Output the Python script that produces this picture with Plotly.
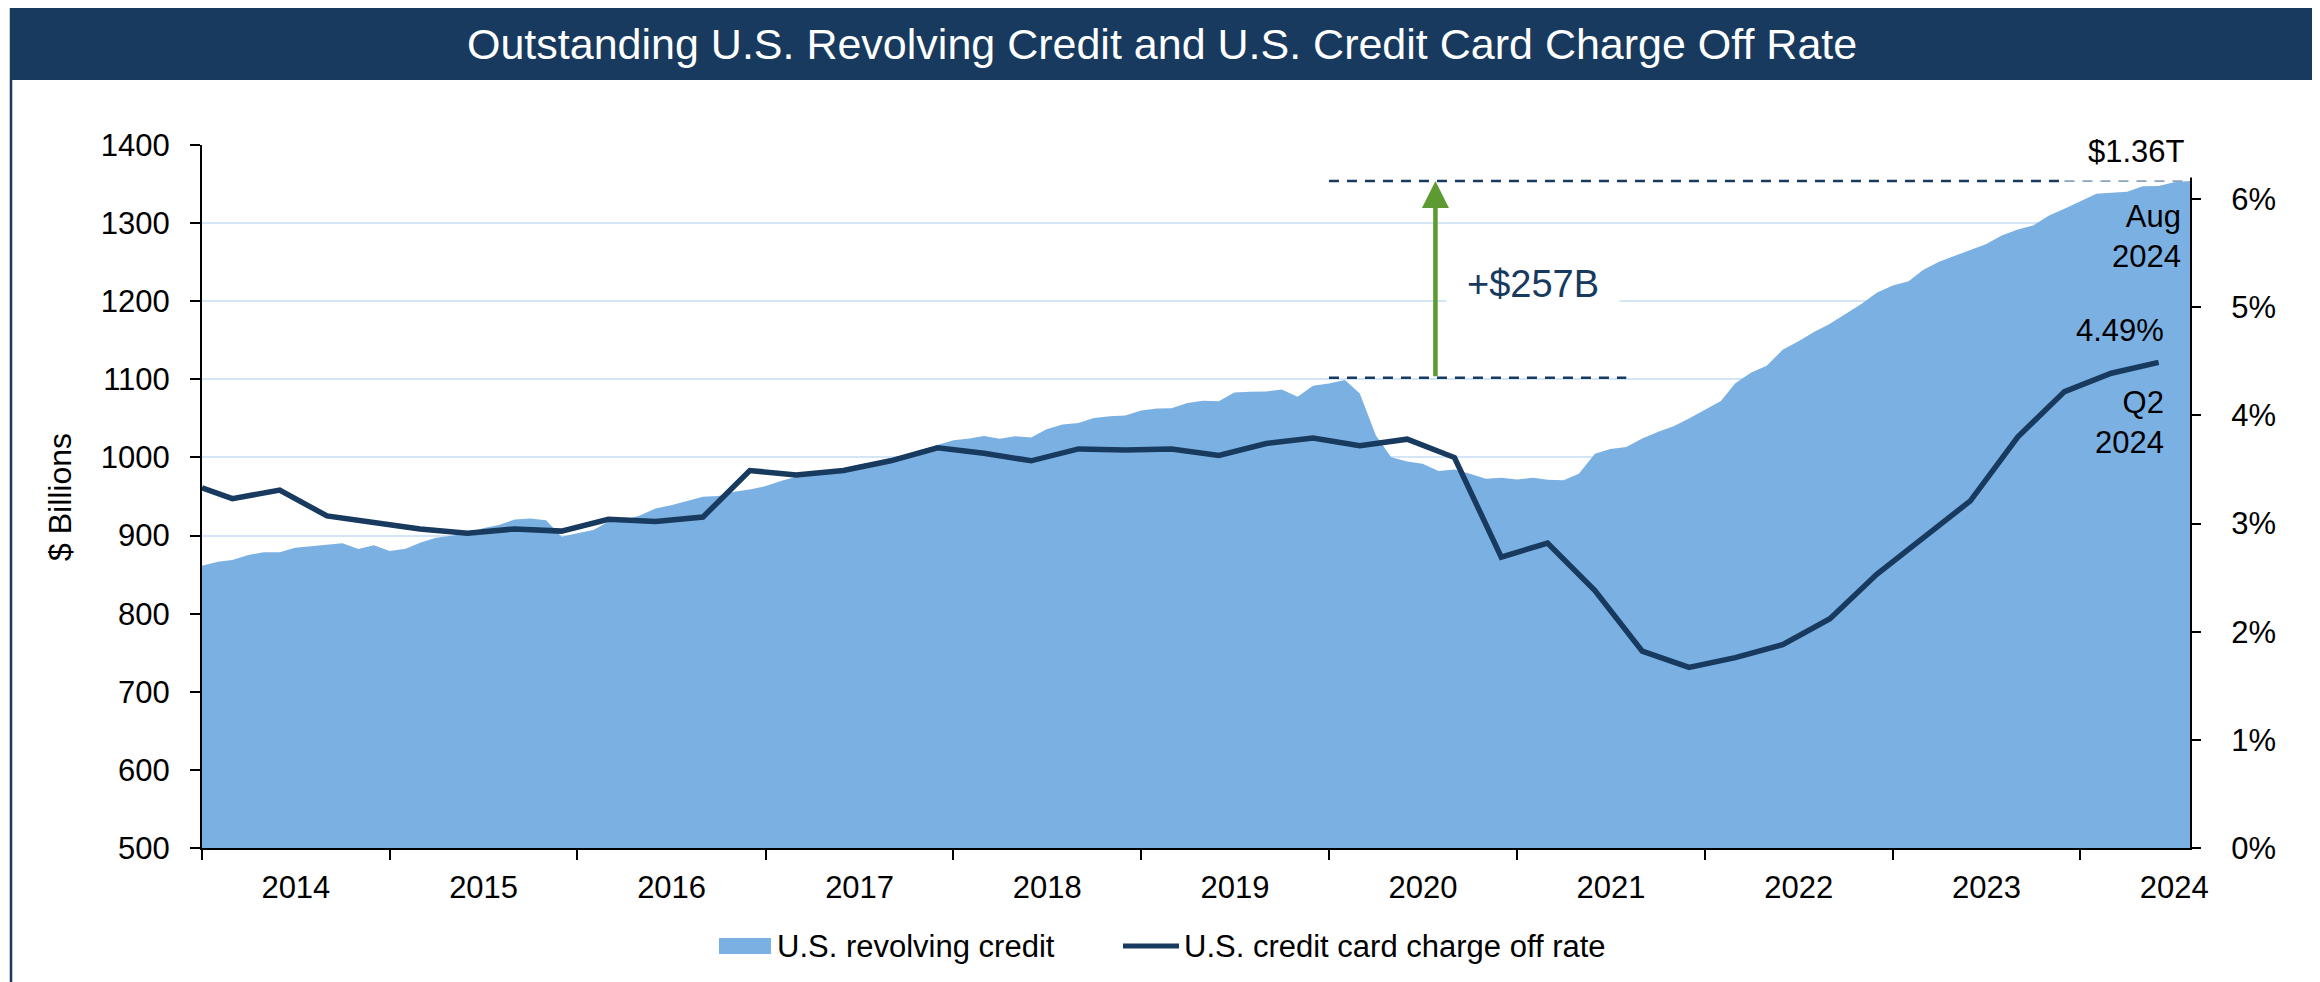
import plotly.graph_objects as go
import pandas as pd

# ---------------- data ----------------
months = pd.date_range("2014-01-01", "2024-08-01", freq="MS").strftime("%Y-%m-%d").tolist()

revolving = [
    861.5, 866.6, 868.8, 875.2, 878.6, 878.6, 884.5, 886.2, 887.5, 890.0, 882.8, 887.5,   # 2014
    880.3, 883.2, 890.8, 897.2, 899.7, 902.8, 909.2, 913.4, 920.6, 921.9, 919.7, 898.5,   # 2015
    902.8, 907.0, 917.6, 919.7, 925.7, 934.6, 938.9, 944.0, 949.7, 950.6, 956.0, 959.1,   # 2016
    963.3, 970.1, 975.2, 978.3, 981.6, 986.0, 991.0, 994.4, 998.7, 1003.8, 1010.2, 1015.7,  # 2017
    1022.0, 1024.3, 1027.6, 1023.8, 1027.2, 1025.5, 1036.1, 1042.1, 1044.2, 1050.6, 1052.7, 1053.6,  # 2018
    1060.0, 1062.6, 1063.0, 1069.8, 1072.5, 1072.1, 1083.2, 1084.0, 1084.5, 1087.1, 1077.6, 1091.8,  # 2019
    1094.8, 1099.1, 1082.0, 1028.3, 1000.4, 994.9, 991.9, 982.6, 984.6, 979.0, 972.6, 973.9,  # 2020
    971.7, 973.9, 971.3, 970.8, 979.0, 1004.8, 1010.7, 1013.3, 1024.1, 1032.6, 1040.0, 1049.8,  # 2021
    1060.6, 1072.2, 1094.9, 1108.6, 1117.3, 1137.8, 1148.5, 1160.5, 1171.3, 1183.7, 1196.5, 1210.7,  # 2022
    1220.2, 1225.7, 1239.9, 1250.6, 1257.9, 1265.3, 1273.0, 1284.0, 1291.8, 1296.9, 1309.8, 1318.4,  # 2023
    1328.3, 1337.7, 1339.0, 1340.3, 1347.2, 1347.5, 1352.3, 1353.8,  # 2024 (Jan-Aug)
]

quarter_dates = (
    ["2014-01-01"]
    + [f"{y}-{m:02d}-01" for y in range(2014, 2024) for m in (3, 6, 9, 12)]
    + ["2024-03-01", "2024-06-01"]
)
charge_off = [
    3.33,
    3.23, 3.31, 3.07, 3.01,   # 2014
    2.95, 2.91, 2.95, 2.93,   # 2015
    3.04, 3.02, 3.06, 3.49,   # 2016
    3.45, 3.49, 3.58, 3.70,   # 2017
    3.65, 3.58, 3.69, 3.68,   # 2018
    3.69, 3.63, 3.74, 3.79,   # 2019
    3.72, 3.78, 3.61, 2.69,   # 2020
    2.82, 2.38, 1.82, 1.67,   # 2021
    1.76, 1.88, 2.12, 2.53,   # 2022
    2.87, 3.21, 3.80, 4.22,   # 2023
    4.39, 4.49,               # 2024
]

left_ticks = list(range(500, 1401, 100))
right_ticks = [0, 1, 2, 3, 4, 5, 6]
right_labels = [f"{v}%" for v in right_ticks]

peak_month = "2020-02-01"
peak_value = revolving[months.index(peak_month)]
latest_value = revolving[-1]

# ---------------- style ----------------
NAVY = "#173A5E"
AREA = "#7BB0E3"
GRID = "#D3E5F6"
GREEN = "#5E9A32"
FONT = "Liberation Sans, Arial, sans-serif"

OFF = 8                      # page body margin of the browser
W, H = 2320 - OFF, 982 - OFF
# plot area in screen pixels
L, R, T, B = 202, 2190, 145, 848


def xp(px):
    return (px - L) / (R - L)


def yp(py):
    return (B - py) / (B - T)


fig = go.Figure()

fig.add_trace(go.Scatter(
    x=months, y=revolving, name="U.S. revolving credit",
    mode="lines", line=dict(width=0, color=AREA), fill="tozeroy",
    fillcolor=AREA, showlegend=False, yaxis="y",
))
fig.add_trace(go.Scatter(
    x=quarter_dates, y=charge_off, name="U.S. credit card charge off rate",
    mode="lines", line=dict(width=5.5, color=NAVY), showlegend=False,
    yaxis="y2",
))

shapes = []
# outer frame and title band
shapes.append(dict(type="rect", xref="paper", yref="paper",
                   x0=xp(11), x1=xp(2315), y0=yp(995), y1=yp(8),
                   line=dict(color=NAVY, width=2.5), fillcolor="rgba(0,0,0,0)", layer="below"))
shapes.append(dict(type="rect", xref="paper", yref="paper",
                   x0=xp(10), x1=xp(2316), y0=yp(80), y1=yp(7),
                   line=dict(width=0), fillcolor=NAVY, layer="below"))
# dashed reference lines
shapes.append(dict(type="line", xref="x", yref="y", x0="2020-01-01", x1="2021-08-01",
                   y0=peak_value + 3, y1=peak_value + 3,
                   line=dict(color=NAVY, width=2.5, dash="10px,8px")))
shapes.append(dict(type="line", xref="x", yref="y", x0="2020-01-01", x1="2023-12-01",
                   y0=latest_value, y1=latest_value,
                   line=dict(color=NAVY, width=2.5, dash="10px,8px")))
shapes.append(dict(type="line", xref="x", yref="y", x0="2023-12-01", x1="2024-08-01",
                   y0=latest_value, y1=latest_value,
                   line=dict(color="#8CA3BE", width=1.8, dash="10px,8px")))
# legend swatches
shapes.append(dict(type="rect", xref="paper", yref="paper",
                   x0=xp(719), x1=xp(771), y0=yp(954), y1=yp(938),
                   line=dict(width=0), fillcolor=AREA))
shapes.append(dict(type="line", xref="paper", yref="paper",
                   x0=xp(1123), x1=xp(1179), y0=yp(946), y1=yp(946),
                   line=dict(width=5, color=NAVY)))

annotations = [
    dict(text="Outstanding U.S. Revolving Credit and U.S. Credit Card Charge Off Rate",
         xref="paper", yref="paper", x=xp(1162), y=yp(44), xanchor="center", yanchor="middle",
         showarrow=False, font=dict(size=43, color="white", family=FONT)),
    dict(text="$ Billions", xref="paper", yref="paper", x=xp(60), y=yp(497),
         textangle=-90, showarrow=False, xanchor="center", yanchor="middle",
         font=dict(size=32, color="black", family=FONT)),
    dict(text="$1.36T", xref="paper", yref="paper", x=xp(2194), y=yp(151),
         xanchor="right", yanchor="middle", showarrow=False, bgcolor="white", borderpad=8,
         font=dict(size=31, color="black", family=FONT)),
    dict(text="Aug<br>2024", xref="paper", yref="paper", x=xp(2183), y=yp(236),
         xanchor="right", yanchor="middle", align="right", showarrow=False,
         font=dict(size=31, color="black", family=FONT)),
    dict(text="4.49%", xref="paper", yref="paper", x=xp(2166), y=yp(330),
         xanchor="right", yanchor="middle", showarrow=False,
         font=dict(size=31, color="black", family=FONT)),
    dict(text="Q2<br>2024", xref="paper", yref="paper", x=xp(2166), y=yp(422),
         xanchor="right", yanchor="middle", align="right", showarrow=False,
         font=dict(size=31, color="black", family=FONT)),
    dict(text="+$257B", xref="paper", yref="paper", x=xp(1533), y=yp(284),
         xanchor="center", yanchor="middle", showarrow=False, bgcolor="white",
         borderpad=6, width=160, height=44,
         font=dict(size=38, color=NAVY, family=FONT)),
    dict(text="", x="2020-07-26", y=latest_value, ax="2020-07-26", ay=peak_value + 3,
         xref="x", yref="y", axref="x", ayref="y", showarrow=True,
         arrowhead=2, arrowsize=1.2, arrowwidth=4.5, arrowcolor=GREEN, standoff=0),
    dict(text="U.S. revolving credit", xref="paper", yref="paper", x=xp(775), y=yp(946),
         xanchor="left", yanchor="middle", showarrow=False,
         font=dict(size=31, color="black", family=FONT)),
    dict(text="U.S. credit card charge off rate", xref="paper", yref="paper", x=xp(1182), y=yp(946),
         xanchor="left", yanchor="middle", showarrow=False,
         font=dict(size=31, color="black", family=FONT)),
]

fig.update_layout(
    width=W, height=H,
    margin=dict(l=L - OFF, r=W - (R - OFF), t=T - OFF, b=H - (B - OFF), pad=0, autoexpand=False),
    paper_bgcolor="white", plot_bgcolor="white",
    font=dict(family=FONT, size=31, color="black"),
    showlegend=False,
    shapes=shapes, annotations=annotations,
    xaxis=dict(
        type="date", range=["2014-01-01", "2024-08-01"],
        tickmode="linear", tick0="2014-01-01", dtick="M12", tickformat="%Y",
        ticklabelmode="period",
        ticks="outside", ticklen=10, tickwidth=2, tickcolor="black",
        showline=True, linecolor="black", linewidth=2,
        showgrid=False, zeroline=False, ticklabelstandoff=1,
        tickfont=dict(size=31, color="black", family=FONT),
    ),
    yaxis=dict(
        range=[500, 1400], tickmode="array", tickvals=left_ticks,
        ticks="outside", ticklen=10, tickwidth=2, tickcolor="black",
        showline=True, linecolor="black", linewidth=2,
        showgrid=True, gridcolor=GRID, gridwidth=2, zeroline=False,
        ticklabelstandoff=14,
        tickfont=dict(size=31, color="black", family=FONT),
    ),
    yaxis2=dict(
        range=[0, 6.5], tickmode="array", tickvals=right_ticks, ticktext=right_labels,
        overlaying="y", side="right",
        ticks="outside", ticklen=9, tickwidth=2, tickcolor="black",
        showline=True, linecolor="black", linewidth=2,
        showgrid=False, zeroline=False, ticklabelstandoff=24,
        tickfont=dict(size=31, color="black", family=FONT),
    ),
)

fig.write_html("out.html")
